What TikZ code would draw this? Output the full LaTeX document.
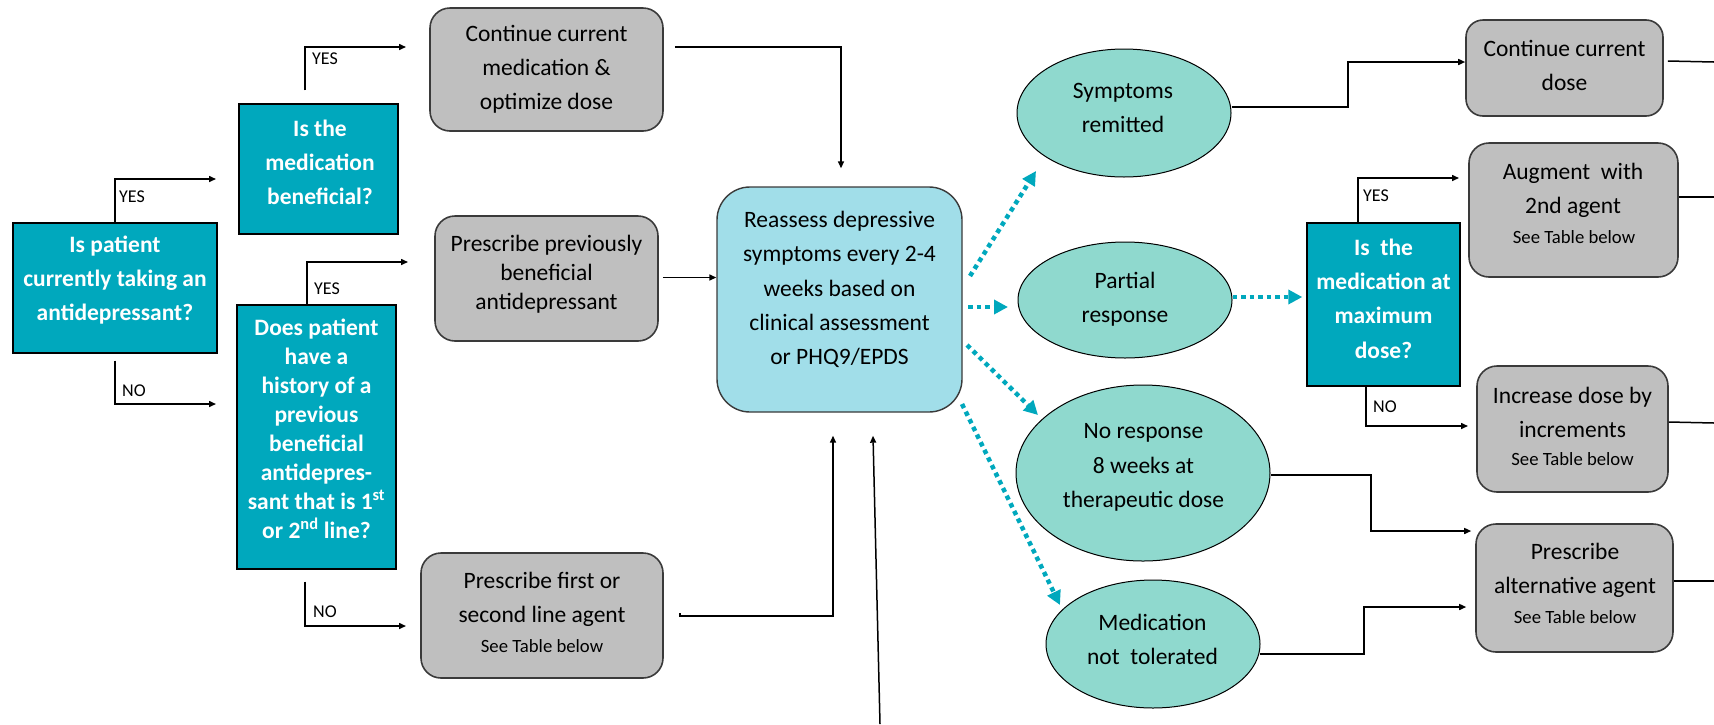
\documentclass[tikz,border=0pt]{standalone}
\usepackage{fontspec}
\setmainfont{Carlito}
\usetikzlibrary{arrows.meta,calc,shapes.geometric}

\definecolor{qteal}{HTML}{00A8BD}
\definecolor{boxgray}{HTML}{BFBFBF}
\definecolor{reafill}{HTML}{A1DEE9}
\definecolor{ellfill}{HTML}{8FD9CE}
\definecolor{edgegray}{HTML}{3A3A3A}

\begin{document}
\begin{tikzpicture}[x=1pt,y=-1pt,
  qbox/.style={draw=black, line width=1.4pt, fill=qteal, inner sep=0pt},
  gbox/.style={draw=edgegray, line width=1.6pt, fill=boxgray, rounded corners=20pt, inner sep=0pt},
  rbox/.style={draw=edgegray, line width=1.4pt, fill=reafill, rounded corners=33pt, inner sep=0pt},
  ell/.style={ellipse, draw=black, line width=1pt, fill=ellfill, inner sep=0pt},
  qtext/.style={text=white, font=\bfseries\fontsize{23.5}{34}\selectfont, align=center, inner sep=0pt},
  gtext/.style={font=\fontsize{23.5}{34}\selectfont, align=center, inner sep=0pt},
  small/.style={font=\fontsize{18.7}{22}\selectfont, inner sep=0pt},
  lab/.style={font=\fontsize{18}{20}\selectfont, anchor=west, inner sep=0pt},
  arr/.style={draw=black, line width=1.5pt, -{Triangle[length=7pt,width=6pt]}},
  plainline/.style={draw=black, line width=1.5pt},
  dotarr/.style={draw=qteal, line width=4.5pt, dash pattern=on 4.5pt off 4pt, -{Triangle[length=14pt,width=14pt]}}
]
\useasboundingbox (0,0) rectangle (1714,724);

% ---- left decision boxes
\node[qbox, minimum width=204pt, minimum height=130pt] (A) at (115,288) {};
\node[qtext] (At) at (115,280) {Is patient\\currently taking an\\antidepressant?};

\node[qbox, minimum width=159pt, minimum height=130pt] (B) at (318.5,169) {};
\node[qtext] (Bt) at (320,162) {Is the\\medication\\beneficial?};

\node[qbox, minimum width=159pt, minimum height=264pt] (C) at (316.5,437) {};
\node[qtext, font=\bfseries\fontsize{23.5}{29}\selectfont] (Ct) at (316.5,429) {Does patient\\have a\\history of a\\previous\\beneficial\\antidepres-\\sant that is 1\textsuperscript{st}\\or 2\textsuperscript{nd} line?};

% ---- gray action boxes (left)
\node[gbox, minimum width=233pt, minimum height=123pt] (D) at (546.5,69.5) {};
\node[gtext] (Dt) at (546.5,69) {Continue current\\medication \&\\optimize dose};

\node[gbox, minimum width=223pt, minimum height=125pt] (E) at (546.5,278.5) {};
\node[gtext, font=\fontsize{23.5}{29}\selectfont] (Et) at (546.5,274) {Prescribe previously\\beneficial\\antidepressant};

\node[gbox, minimum width=242pt, minimum height=125pt] (F) at (542,615.5) {};
\node[gtext] (Ft) at (542,599) {Prescribe first or\\second line agent};
\node[small] (Fs) at (542,646) {See Table below};

% ---- reassess
\node[rbox, minimum width=245pt, minimum height=225pt] (R) at (839.5,299.5) {};
\node[gtext, font=\fontsize{23.5}{34.3}\selectfont] (Rt) at (839.5,289.5) {Reassess depressive\\symptoms every 2-4\\weeks based on\\clinical assessment\\or PHQ9/EPDS};

% ---- outcome ellipses
\node[ell, minimum width=214pt, minimum height=128pt] (S) at (1124,113) {};
\node[gtext] (St) at (1123,108) {Symptoms\\remitted};
\node[ell, minimum width=214pt, minimum height=116pt] (P) at (1125,300) {};
\node[gtext] (Pt) at (1125,299) {Partial\\response};
\node[ell, minimum width=254pt, minimum height=176pt] (N) at (1143,473) {};
\node[gtext, font=\fontsize{23.5}{34.5}\selectfont] (Nt) at (1143.5,467.5) {No response\\8 weeks at\\therapeutic dose};
\node[ell, minimum width=214pt, minimum height=128pt] (T) at (1153,644) {};
\node[gtext] (Tt) at (1152.5,639) {Medication\\not\ \ tolerated};

% ---- right side
\node[qbox, minimum width=153pt, minimum height=163pt] (M) at (1383.5,304.5) {};
\node[qtext, font=\bfseries\fontsize{23.5}{34.3}\selectfont] (Mt) at (1383.5,298.5) {Is\ \ the\\medication at\\maximum\\dose?};

\node[gbox, rounded corners=17pt, minimum width=197pt, minimum height=96pt] (CC) at (1564.5,68) {};
\node[gtext] (CCt) at (1564.5,65) {Continue current\\dose};

\node[gbox, minimum width=209pt, minimum height=134pt] (AU) at (1573.5,210) {};
\node[gtext] (AUt) at (1573,190) {Augment\ \ with\\2nd agent};
\node[small] (AUs) at (1574,237) {See Table below};

\node[gbox, minimum width=191pt, minimum height=126pt] (ID) at (1572.5,429) {};
\node[gtext] (IDt) at (1572.5,412) {Increase dose by\\increments};
\node[small] (IDs) at (1572.5,459) {See Table below};

\node[gbox, minimum width=197pt, minimum height=128pt] (PA) at (1574.5,588) {};
\node[gtext] (PAt) at (1575,570.5) {Prescribe\\alternative agent};
\node[small] (PAs) at (1575,617) {See Table below};

% ---- connectors, left part
\coordinate (aYesE) at (216,179);
\draw[arr] (A.north) |- (aYesE);
\node[lab] (aYes) at (119,197) {YES};

\coordinate (aNoS) at ($(A.south)+(0,7)$);
\coordinate (aNoE) at (216,404);
\draw[arr] (aNoS) |- (aNoE);
\node[lab] (aNo) at (122,391) {NO};

\coordinate (bYesS) at ($(B.north)+(-13.5,-13)$);
\coordinate (bYesE) at (406,47);
\draw[arr] (bYesS) |- (bYesE);
\node[lab] (bYes) at (312,59) {YES};

\coordinate (cYesE) at (408,262);
\draw[arr] ($(C.north)+(-9.5,0)$) |- (cYesE);
\node[lab] (cYes) at (314,289) {YES};

\coordinate (cNoS) at ($(C.south)+(-11.5,12)$);
\coordinate (cNoE) at (406,626);
\draw[arr] (cNoS) |- (cNoE);
\node[lab] (cNo) at (313,612) {NO};

\coordinate (dS) at ($(D.east)+(11,-22.5)$);
\coordinate (dE) at ($(R.north)+(1.5,-18)$);
\draw[arr] (dS) -| (dE);

\draw[arr] ($(E.east)+(4,-1)$) -- ($(E.east -| R.west)+(0,-1)$);

\coordinate (fS) at ($(F.east)+(16,-2.5)$);
\coordinate (fE) at ($(R.south)+(-6.5,23)$);
\draw[arr] (fS) -- ++(0,3) -| (fE);

\coordinate (gS) at (880,724);
\coordinate (gE) at ($(R.south)+(33.5,23)$);
\draw[arr] (gS) -- (gE);

% ---- dotted connectors from reassess
\coordinate (d1S) at (970,276); \coordinate (d1E) at (1036,171);
\coordinate (d2S) at (968,307); \coordinate (d2E) at (1008,307);
\coordinate (d3S) at (967,345); \coordinate (d3E) at (1038,415);
\coordinate (d4S) at (962,404); \coordinate (d4E) at (1060,605);
\draw[dotarr] (d1S) -- (d1E);
\draw[dotarr] (d2S) -- (d2E);
\draw[dotarr] (d3S) -- (d3E);
\draw[dotarr] (d4S) -- (d4E);

\draw[dotarr] ($(P.east)+(0,-3)$) -- ($(P.east -| M.west)+(-4,-3)$);

% ---- connectors, right part
\coordinate (sM) at (1348,62);
\draw[arr] ($(S.east)+(0,-6)$) -| (sM) -- ($(CC.west)+(0,-6)$);

\coordinate (mYesE) at (1459,178);
\draw[arr] ($(M.north)+(-25.5,0)$) |- (mYesE);
\node[lab] (mYes) at (1363,196) {YES};

\coordinate (mNoE) at (1468,426);
\draw[arr] ($(M.south)+(-17.5,0)$) |- (mNoE);
\node[lab] (mNo) at (1373,407) {NO};

\coordinate (nM) at (1371,531);
\draw[arr] ($(N.east)+(0,2)$) -| (nM) -- ($(nM -| PA.west)+(-4,0)$);

\coordinate (tM) at (1364,607);
\draw[arr] ($(T.east)+(-1,10)$) -| (tM) -- ($(tM -| PA.west)+(-9,0)$);

% ---- lines leaving the picture on the right
\coordinate (ccOut) at (1714,62);
\coordinate (auOut) at (1714,197);
\coordinate (idOut) at (1714,423);
\coordinate (paOut) at (1714,581);
\draw[plainline] ($(CC.east)+(4,-7)$) -- (ccOut);
\draw[plainline] ($(AU.east)+(0,-13)$) -- (auOut);
\draw[plainline] ($(ID.east)+(0,-7)$) -- (idOut);
\draw[plainline] ($(PA.east)+(0,-7)$) -- (paOut);
\end{tikzpicture}
\end{document}
